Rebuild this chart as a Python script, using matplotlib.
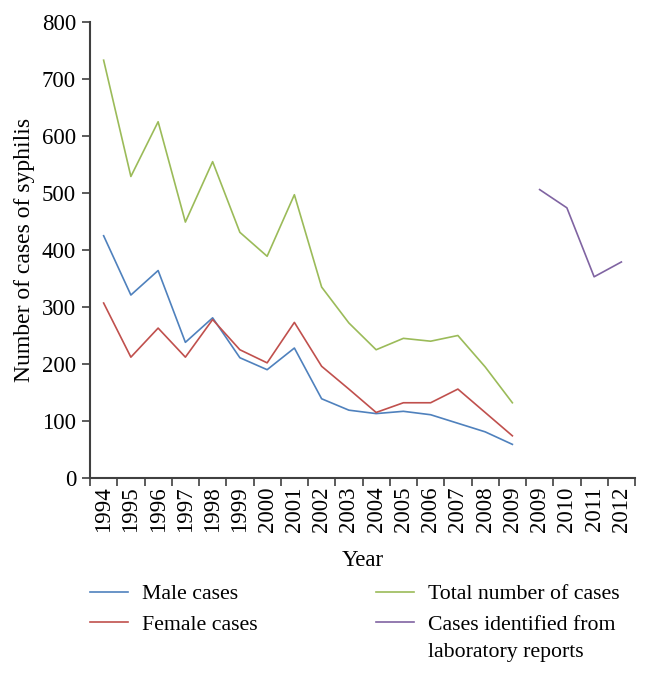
import matplotlib
matplotlib.use("Agg")
import matplotlib.pyplot as plt
import numpy as np

years = ["1994", "1995", "1996", "1997", "1998", "1999", "2000", "2001", "2002",
         "2003", "2004", "2005", "2006", "2007", "2008", "2009",
         "2009", "2010", "2011", "2012"]
male = [425, 321, 364, 238, 281, 211, 190, 228, 139, 119, 113, 117, 111, 96, 81, 59]
female = [307, 212, 263, 212, 278, 225, 202, 273, 196, 156, 115, 132, 132, 156, 115, 74]
total = [733, 529, 625, 449, 555, 431, 389, 497, 335, 272, 225, 245, 240, 250, 195, 132]
lab = [506, 474, 353, 379]

plt.rcParams['font.family'] = ['Liberation Serif', 'DejaVu Serif']
FS = 16.5
LFS = 15.7

fig = plt.figure(figsize=(6.48, 6.75), dpi=100)
ax = fig.add_axes([90/648, 1-478/675, (635-90)/648, (478-22)/675])

x_main = np.arange(len(male))
x_lab = np.arange(len(male), len(male) + len(lab))
lw = 1.2
l1, = ax.plot(x_main, male, color="#4F81BD", lw=lw, label="Male cases")
l2, = ax.plot(x_main, female, color="#C0504D", lw=lw, label="Female cases")
l3, = ax.plot(x_main, total, color="#9BBB59", lw=lw, label="Total number of cases")
l4, = ax.plot(x_lab, lab, color="#8064A2", lw=lw, label="Cases identified from")

ax.set_xlim(-0.5, len(years) - 0.5)
ax.set_ylim(0, 800)
ax.set_yticks(np.arange(0, 801, 100))
ax.set_xticks(np.arange(len(years)))
ax.set_xticklabels(years, rotation=90, fontsize=FS)
ax.set_xticks(np.arange(-0.5, len(years)), minor=True)
ax.tick_params(axis='x', which='major', length=0, pad=6)
ax.tick_params(axis='x', which='minor', length=6, width=1.2, color="#404040", direction='out')
ax.tick_params(axis='y', length=6, width=1.2, color="#404040", labelsize=FS, pad=4)

for s in ['top', 'right']:
    ax.spines[s].set_visible(False)
for s in ['left', 'bottom']:
    ax.spines[s].set_color("#404040")
    ax.spines[s].set_linewidth(1.5)

ax.set_ylabel("Number of cases of syphilis", fontsize=17)
ax.yaxis.set_label_coords((25-90)/545, 0.5)
ax.yaxis.label.set_va('center')
ax.set_xlabel("Year", fontsize=FS)
ax.xaxis.set_label_coords(0.5, -(561-478)/456)
ax.xaxis.label.set_va('center')

common = dict(loc='upper left', frameon=False, fontsize=LFS, handlelength=1.74,
              handletextpad=0.64, borderpad=0, borderaxespad=0, labelspacing=0.47)
leg1 = fig.legend([l1, l2], [l1.get_label(), l2.get_label()],
                  bbox_to_anchor=(90/648, 1-584/675), **common)
leg2 = fig.legend([l3, l4], [l3.get_label(), l4.get_label()],
                  bbox_to_anchor=(376/648, 1-584/675), **common)
fig.text(428/648, 1-653/675, "laboratory reports", fontsize=LFS, ha='left', va='center')

fig.savefig("out.png", dpi=100)
